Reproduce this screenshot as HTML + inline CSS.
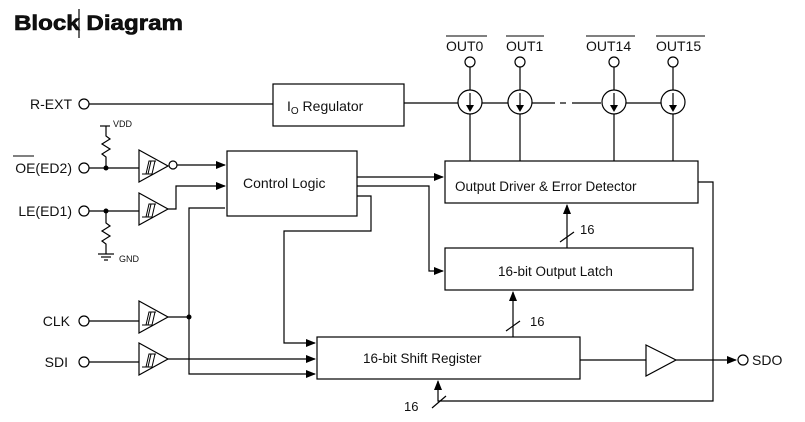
<!DOCTYPE html>
<html><head><meta charset="utf-8"><style>
body{margin:0;background:#fff}
svg{display:block}
text{font-family:"Liberation Sans",Arial,sans-serif;fill:#111}
</style></head><body>
<svg width="805" height="422" viewBox="0 0 805 422" xmlns="http://www.w3.org/2000/svg">
<defs>
<marker id="a" markerWidth="10" markerHeight="8" refX="9" refY="4" orient="auto" markerUnits="userSpaceOnUse"><path d="M0,0 L10,4 L0,8 Z" fill="#000"/></marker>
<g id="buf"><path d="M0,0 L29,16 L0,32 Z" fill="#fff" stroke="#000" stroke-width="1.2"/><path d="M3,24 L9,24 L12,11 L17,11 M9,24 L12,11" fill="none" stroke="#000" stroke-width="1"/><path d="M7,24 L10,11 L16,11 L13,24 Z" fill="none" stroke="#000" stroke-width="1"/></g>
<g id="cs"><circle cx="0" cy="0" r="12" fill="#fff" stroke="#000" stroke-width="1.2"/><line x1="0" y1="-9" x2="0" y2="4" stroke="#000" stroke-width="1.2"/><path d="M-4,3 L4,3 L0,10 Z" fill="#000"/></g>
</defs>
<rect width="805" height="422" fill="#fff"/>
<text x="14" y="30" font-size="21" font-weight="900" textLength="169" lengthAdjust="spacingAndGlyphs" stroke="#000" stroke-width="0.6">Block Diagram</text>
<line x1="79" y1="9" x2="79" y2="38" stroke="#000" stroke-width="1.2"/>

<g stroke="#000" stroke-width="1.2" fill="none">
<line x1="89" y1="104" x2="273" y2="104"/>
<rect x="273" y="84" width="131" height="42"/>
<line x1="404" y1="103" x2="458" y2="103"/>
<line x1="482" y1="103" x2="508" y2="103"/>
<line x1="532" y1="103" x2="555" y2="103"/>
<line x1="560" y1="103" x2="566" y2="103"/>
<line x1="572" y1="103" x2="601" y2="103"/>
<line x1="625" y1="103" x2="661" y2="103"/>
<line x1="470" y1="67" x2="470" y2="161"/>
<line x1="520" y1="67" x2="520" y2="161"/>
<line x1="614" y1="67" x2="614" y2="161"/>
<line x1="673" y1="67" x2="673" y2="161"/>
<rect x="445" y="161" width="253" height="42"/>
<rect x="445" y="248" width="248" height="42"/>
<rect x="317" y="337" width="263" height="42"/>
<rect x="227" y="151" width="130" height="65"/>
<line x1="567" y1="248" x2="567" y2="205" marker-end="url(#a)"/>
<line x1="560" y1="242" x2="574" y2="232"/>
<line x1="513" y1="337" x2="513" y2="292" marker-end="url(#a)"/>
<line x1="506" y1="331" x2="520" y2="321"/>
<polyline points="698,182 713,182 713,401 438,401 438,381" marker-end="url(#a)"/>
<line x1="432" y1="408" x2="446" y2="396"/>
<line x1="580" y1="360" x2="646" y2="360"/>
<path d="M646,345 L676,360 L646,376 Z"/>
<line x1="676" y1="360" x2="736" y2="360" marker-end="url(#a)"/>
<circle cx="743" cy="360" r="5"/>
<line x1="357" y1="177" x2="443" y2="177" marker-end="url(#a)"/>
<polyline points="357,186 429,186 429,271 443,271" marker-end="url(#a)"/>
<polyline points="357,196 371,196 371,231 284,231 284,343 315,343" marker-end="url(#a)"/>
<circle cx="84" cy="104" r="5"/>
<circle cx="84" cy="168" r="5"/>
<circle cx="84" cy="211" r="5"/>
<circle cx="84" cy="321" r="5"/>
<circle cx="84" cy="362" r="5"/>
<line x1="89" y1="168" x2="139" y2="168"/>
<line x1="89" y1="211" x2="139" y2="211"/>
<line x1="89" y1="321" x2="139" y2="321"/>
<line x1="89" y1="362" x2="139" y2="362"/>
<line x1="100" y1="126" x2="110" y2="126"/>
<polyline points="106,126 106,136 110,139 102,144 110,149 102,154 106,157 106,168"/>
<polyline points="106,211 106,223 110,226 102,231 110,236 102,241 106,244 106,254"/>
<line x1="98" y1="254" x2="114" y2="254"/>
<line x1="101" y1="257" x2="111" y2="257"/>
<line x1="104" y1="260" x2="108" y2="260"/>
<circle cx="173" cy="165" r="4"/>
<line x1="177" y1="165" x2="225" y2="165" marker-end="url(#a)"/>
<polyline points="168,209 176,209 176,186 225,186" marker-end="url(#a)"/>
<line x1="168" y1="317" x2="189" y2="317"/>
<polyline points="225,208 189,208 189,374 315,374" marker-end="url(#a)"/>
<line x1="168" y1="359" x2="315" y2="359" marker-end="url(#a)"/>
<circle cx="470" cy="62" r="5" fill="#fff"/>
<circle cx="520" cy="62" r="5" fill="#fff"/>
<circle cx="614" cy="62" r="5" fill="#fff"/>
<circle cx="673" cy="62" r="5" fill="#fff"/>
<line x1="446" y1="36" x2="487" y2="36" stroke-width="1"/>
<line x1="506" y1="36" x2="544" y2="36" stroke-width="1"/>
<line x1="586" y1="36" x2="635" y2="36" stroke-width="1"/>
<line x1="656" y1="36" x2="705" y2="36" stroke-width="1"/>
<line x1="13" y1="156" x2="34" y2="156" stroke-width="1"/>
</g>
<circle cx="106" cy="168" r="2.5"/>
<circle cx="106" cy="211" r="2.5"/>
<circle cx="189" cy="317" r="2.5"/>
<use href="#buf" x="139" y="150"/>
<use href="#buf" x="139" y="193"/>
<use href="#buf" x="139" y="301"/>
<use href="#buf" x="139" y="343"/>
<use href="#cs" x="470" y="102"/>
<use href="#cs" x="520" y="102"/>
<use href="#cs" x="614" y="102"/>
<use href="#cs" x="673" y="102"/>

<g font-size="14">
<text x="72" y="109" text-anchor="end">R-EXT</text>
<text x="72" y="173" text-anchor="end">OE(ED2)</text>
<text x="72" y="216" text-anchor="end">LE(ED1)</text>
<text x="70" y="326" text-anchor="end">CLK</text>
<text x="68" y="367" text-anchor="end">SDI</text>
<text x="752" y="365">SDO</text>
<text x="446" y="51">OUT0</text>
<text x="506" y="51">OUT1</text>
<text x="586" y="51">OUT14</text>
<text x="656" y="51">OUT15</text>
<text x="287" y="111">I<tspan font-size="10" dy="3">O</tspan><tspan dy="-3"> Regulator</tspan></text>
<text x="243" y="188">Control Logic</text>
<text x="455" y="191" font-size="13.5">Output Driver &amp; Error Detector</text>
<text x="498" y="276" font-size="13.5">16-bit Output Latch</text>
<text x="363" y="363" font-size="13.5">16-bit Shift Register</text>
<text x="580" y="234" font-size="13">16</text>
<text x="530" y="326" font-size="13">16</text>
<text x="404" y="411" font-size="13">16</text>
</g>
<text x="113" y="127" font-size="9">VDD</text>
<text x="119" y="262" font-size="9">GND</text>
</svg>
</body></html>
